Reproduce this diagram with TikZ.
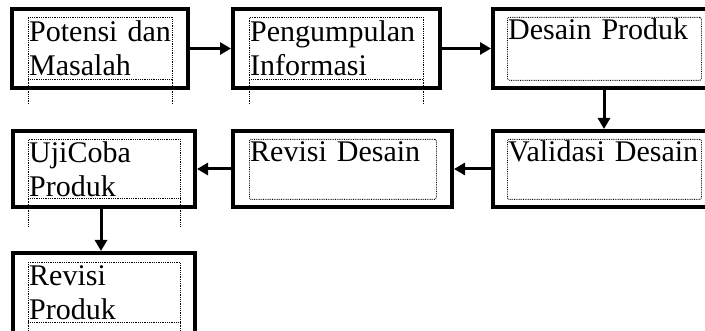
\documentclass[tikz,border=0pt]{standalone}
\usepackage{fontspec}
\setmainfont{Liberation Serif}
\usetikzlibrary{arrows.meta}

\begin{document}
\begin{tikzpicture}
[x=1pt, y=-1pt,
 stage/.style  = {draw, line width=4pt, inner sep=0pt},
 inbox/.style  = {draw, densely dotted, line width=0.8pt, inner sep=0pt, anchor=north west},
 guide/.style  = {densely dotted, line width=0.8pt},
 label/.style  = {anchor=base west, inner sep=0pt, text width=220pt, align=left,
                  font=\fontsize{30}{34}\selectfont},
 flow/.style   = {line width=3pt, -{Triangle[length=11pt,width=12pt]}}]

\useasboundingbox (0,0) rectangle (705,331);
\clip (0,0) rectangle (705,331);

%%%%%%%%%% ROW 1
  \node[stage, minimum width=176, minimum height=79] (potensi) at (100,48.5) {};
  \node[stage, minimum width=207, minimum height=79] (pengumpulan) at (336.5,48.5) {};
  \node[stage, minimum width=222, minimum height=79] (desain) at (604,48.5) {};

  \node[inbox, minimum width=144, minimum height=62] (potensi-in) at (28,17) {};
  \node[inbox, minimum width=174, minimum height=62] (pengumpulan-in) at (249,17) {};
  \node[inbox, rounded corners=1.5pt, minimum width=194, minimum height=63] (desain-in) at (507,17) {};

  \draw[guide] (potensi-in.south west) -- ++(0,24);
  \draw[guide] (potensi-in.south east) -- ++(0,24);
  \draw[guide] (pengumpulan-in.south west) -- ++(0,24);
  \draw[guide] (pengumpulan-in.south east) -- ++(0,24);

  \node[label] (potensi-txt) at ([shift={(1,25)}]potensi-in.north west) {Potensi dan\\Masalah};
  \node[label] (pengumpulan-txt) at ([shift={(1,25)}]pengumpulan-in.north west) {Pengumpulan\\Informasi};
  \node[label] (desain-txt) at ([shift={(1,23)}]desain-in.north west) {Desain Produk};

%%%%%%%%%% ROW 2
  \node[stage, minimum width=222, minimum height=76] (validasi) at (604,169) {};
  \node[stage, minimum width=219, minimum height=76] (revdesain) at (342.5,169) {};
  \node[stage, minimum width=182, minimum height=76] (ujicoba) at (104,169) {};

  \node[inbox, rounded corners=1.5pt, minimum width=194, minimum height=60] (validasi-in) at (507,139) {};
  \node[inbox, rounded corners=1.5pt, minimum width=187, minimum height=60] (revdesain-in) at (249,139) {};
  \node[inbox, minimum width=152, minimum height=59] (ujicoba-in) at (28,139) {};

  \draw[guide] (ujicoba-in.south west) -- ++(0,28);
  \draw[guide] (ujicoba-in.south east) -- ++(0,28);

  \node[label] (validasi-txt) at ([shift={(1,23)}]validasi-in.north west) {Validasi Desain};
  \node[label] (revdesain-txt) at ([shift={(1,23)}]revdesain-in.north west) {Revisi Desain};
  \node[label] (ujicoba-txt) at ([shift={(1,24)}]ujicoba-in.north west) {UjiCoba\\Produk};

%%%%%%%%%% ROW 3
  \node[stage, minimum width=182, minimum height=90] (revproduk) at (104,298) {};
  \node[inbox, minimum width=152, minimum height=60] (revproduk-in) at (28,262) {};
  \draw[guide] (revproduk-in.south west) -- ++(0,20);
  \draw[guide] (revproduk-in.south east) -- ++(0,20);
  \node[label] (revproduk-txt) at ([shift={(1,24)}]revproduk-in.north west) {Revisi\\Produk};

%%%%%%%%%% CONNECTIONS
  \draw[flow] (potensi) -- (pengumpulan);
  \draw[flow] (pengumpulan) -- (desain);
  \draw[flow] (desain) -- (validasi);
  \draw[flow] (validasi) -- (revdesain);
  \draw[flow] (revdesain) -- (ujicoba);
  \draw[flow] ([xshift=-3]ujicoba.south) -- ([xshift=-3]revproduk.north);

\end{tikzpicture}
\end{document}
